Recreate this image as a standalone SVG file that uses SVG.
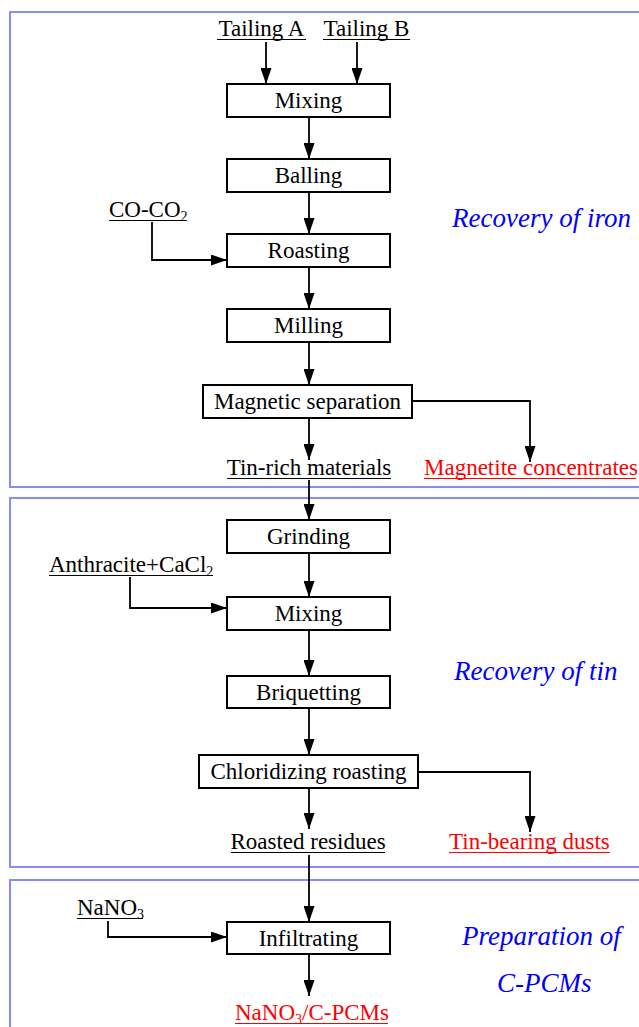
<svg xmlns="http://www.w3.org/2000/svg" width="639" height="1027" viewBox="0 0 639 1027">
<style>
.panel{fill:none;stroke:#8a8aff;stroke-width:2}
.box{fill:#fff;stroke:#000;stroke-width:2}
.t{font-family:"Liberation Serif","Times New Roman",serif;font-size:23px;fill:#000}
.c{text-anchor:middle}
.red{fill:#ff0000}
.blue{font-family:"Liberation Serif","Times New Roman",serif;font-size:27px;font-style:italic;fill:#0000ff}
.ul{stroke:#000;stroke-width:1.2}
.ulr{stroke:#ff0000;stroke-width:1.2}
.sub{font-size:14px}
.conn path,.conn line{fill:none;stroke:#000;stroke-width:1.8}
</style>
<defs>
<marker id="arr" viewBox="0 0 16 11" refX="16" refY="5.5" markerWidth="16" markerHeight="11" markerUnits="userSpaceOnUse" orient="auto">
<path d="M0,0 L16,5.5 L0,11 Z" fill="#000"/>
</marker>
</defs>
<rect fill="#fff" x="0" y="0" width="639" height="1027"/>
<g id="panels">
<rect class="panel" x="10" y="12" width="640" height="475"/>
<rect class="panel" x="10" y="498" width="640" height="369"/>
<rect class="panel" x="10" y="880" width="640" height="170"/>
</g>
<g id="section-labels">
<text class="blue" x="452" y="227">Recovery of iron</text>
<text class="blue" x="454" y="680">Recovery of tin</text>
<text class="blue" x="462" y="945">Preparation of</text>
<text class="blue" x="497" y="992">C-PCMs</text>
</g>
<g class="conn" id="connectors">
<line x1="266" y1="42" x2="266" y2="84" marker-end="url(#arr)"/>
<line x1="357" y1="42" x2="357" y2="84" marker-end="url(#arr)"/>
<line x1="309" y1="117" x2="309" y2="159" marker-end="url(#arr)"/>
<line x1="309" y1="192" x2="309" y2="234" marker-end="url(#arr)"/>
<path d="M152,222 V260 H227" marker-end="url(#arr)"/>
<line x1="309" y1="267" x2="309" y2="309" marker-end="url(#arr)"/>
<line x1="309" y1="342" x2="309" y2="385" marker-end="url(#arr)"/>
<line x1="309" y1="418" x2="309" y2="460" marker-end="url(#arr)"/>
<path d="M412,401 H530 V462" marker-end="url(#arr)"/>
<line x1="309" y1="480" x2="309" y2="520" marker-end="url(#arr)"/>
<line x1="309" y1="553" x2="309" y2="597" marker-end="url(#arr)"/>
<path d="M130,577 V608 H227" marker-end="url(#arr)"/>
<line x1="309" y1="630" x2="309" y2="676" marker-end="url(#arr)"/>
<line x1="309" y1="708" x2="309" y2="755" marker-end="url(#arr)"/>
<line x1="309" y1="788" x2="309" y2="829" marker-end="url(#arr)"/>
<path d="M418,772 H530 V832" marker-end="url(#arr)"/>
<line x1="309" y1="855" x2="309" y2="922" marker-end="url(#arr)"/>
<path d="M108,921 V937 H227" marker-end="url(#arr)"/>
<line x1="309" y1="954" x2="309" y2="996" marker-end="url(#arr)"/>
</g>
<g id="tailing-a"><text class="t c" x="261.5" y="36">Tailing A</text><line class="ul" x1="217" y1="39.5" x2="306" y2="39.5"/></g>
<g id="tailing-b"><text class="t c" x="366.5" y="36">Tailing B</text><line class="ul" x1="323" y1="39.5" x2="410" y2="39.5"/></g>
<g id="mixing1"><rect class="box" x="227" y="84" width="163" height="33"/><text class="t c" x="308.5" y="108">Mixing</text></g>
<g id="balling"><rect class="box" x="227" y="159" width="163" height="33"/><text class="t c" x="308.5" y="183">Balling</text></g>
<g id="co-co2"><text class="t" x="109" y="217">CO-CO<tspan class="sub" dy="4">2</tspan></text><line class="ul" x1="109" y1="220.5" x2="183" y2="220.5"/></g>
<g id="roasting"><rect class="box" x="227" y="234" width="163" height="33"/><text class="t c" x="308.5" y="258">Roasting</text></g>
<g id="milling"><rect class="box" x="227" y="309" width="163" height="33"/><text class="t c" x="308.5" y="333">Milling</text></g>
<g id="magnetic-separation"><rect class="box" x="203" y="385" width="209" height="33"/><text class="t c" x="307.5" y="409">Magnetic separation</text></g>
<g id="tin-rich"><text class="t c" x="309" y="475">Tin-rich materials</text><line class="ul" x1="227" y1="478.5" x2="391" y2="478.5"/></g>
<g id="magnetite"><text class="t red" x="424" y="475">Magnetite concentrates</text><line class="ulr" x1="424" y1="478.5" x2="636" y2="478.5"/></g>
<g id="grinding"><rect class="box" x="227" y="520" width="163" height="33"/><text class="t c" x="308.5" y="544">Grinding</text></g>
<g id="anthracite"><text class="t" x="49" y="572">Anthracite+CaCl<tspan class="sub" dy="4">2</tspan></text><line class="ul" x1="49" y1="575.5" x2="213" y2="575.5"/></g>
<g id="mixing2"><rect class="box" x="227" y="597" width="163" height="33"/><text class="t c" x="308.5" y="621">Mixing</text></g>
<g id="briquetting"><rect class="box" x="227" y="676" width="163" height="32"/><text class="t c" x="308.5" y="699.5">Briquetting</text></g>
<g id="chloridizing"><rect class="box" x="199" y="755" width="219" height="33"/><text class="t c" x="308.5" y="779">Chloridizing roasting</text></g>
<g id="roasted-residues"><text class="t c" x="308" y="849">Roasted residues</text><line class="ul" x1="231" y1="852.5" x2="385" y2="852.5"/></g>
<g id="tin-dusts"><text class="t red" x="449" y="849">Tin-bearing dusts</text><line class="ulr" x1="449" y1="852.5" x2="610" y2="852.5"/></g>
<g id="nano3"><text class="t" x="77" y="915">NaNO<tspan class="sub" dy="4">3</tspan></text><line class="ul" x1="77" y1="918.5" x2="143" y2="918.5"/></g>
<g id="infiltrating"><rect class="box" x="227" y="922" width="163" height="32"/><text class="t c" x="308.5" y="945.5">Infiltrating</text></g>
<g id="product"><text class="t red" x="235" y="1020">NaNO<tspan class="sub" dy="4">3</tspan><tspan dy="-4">/C-PCMs</tspan></text><line class="ulr" x1="235" y1="1023.5" x2="388" y2="1023.5"/></g>
</svg>
